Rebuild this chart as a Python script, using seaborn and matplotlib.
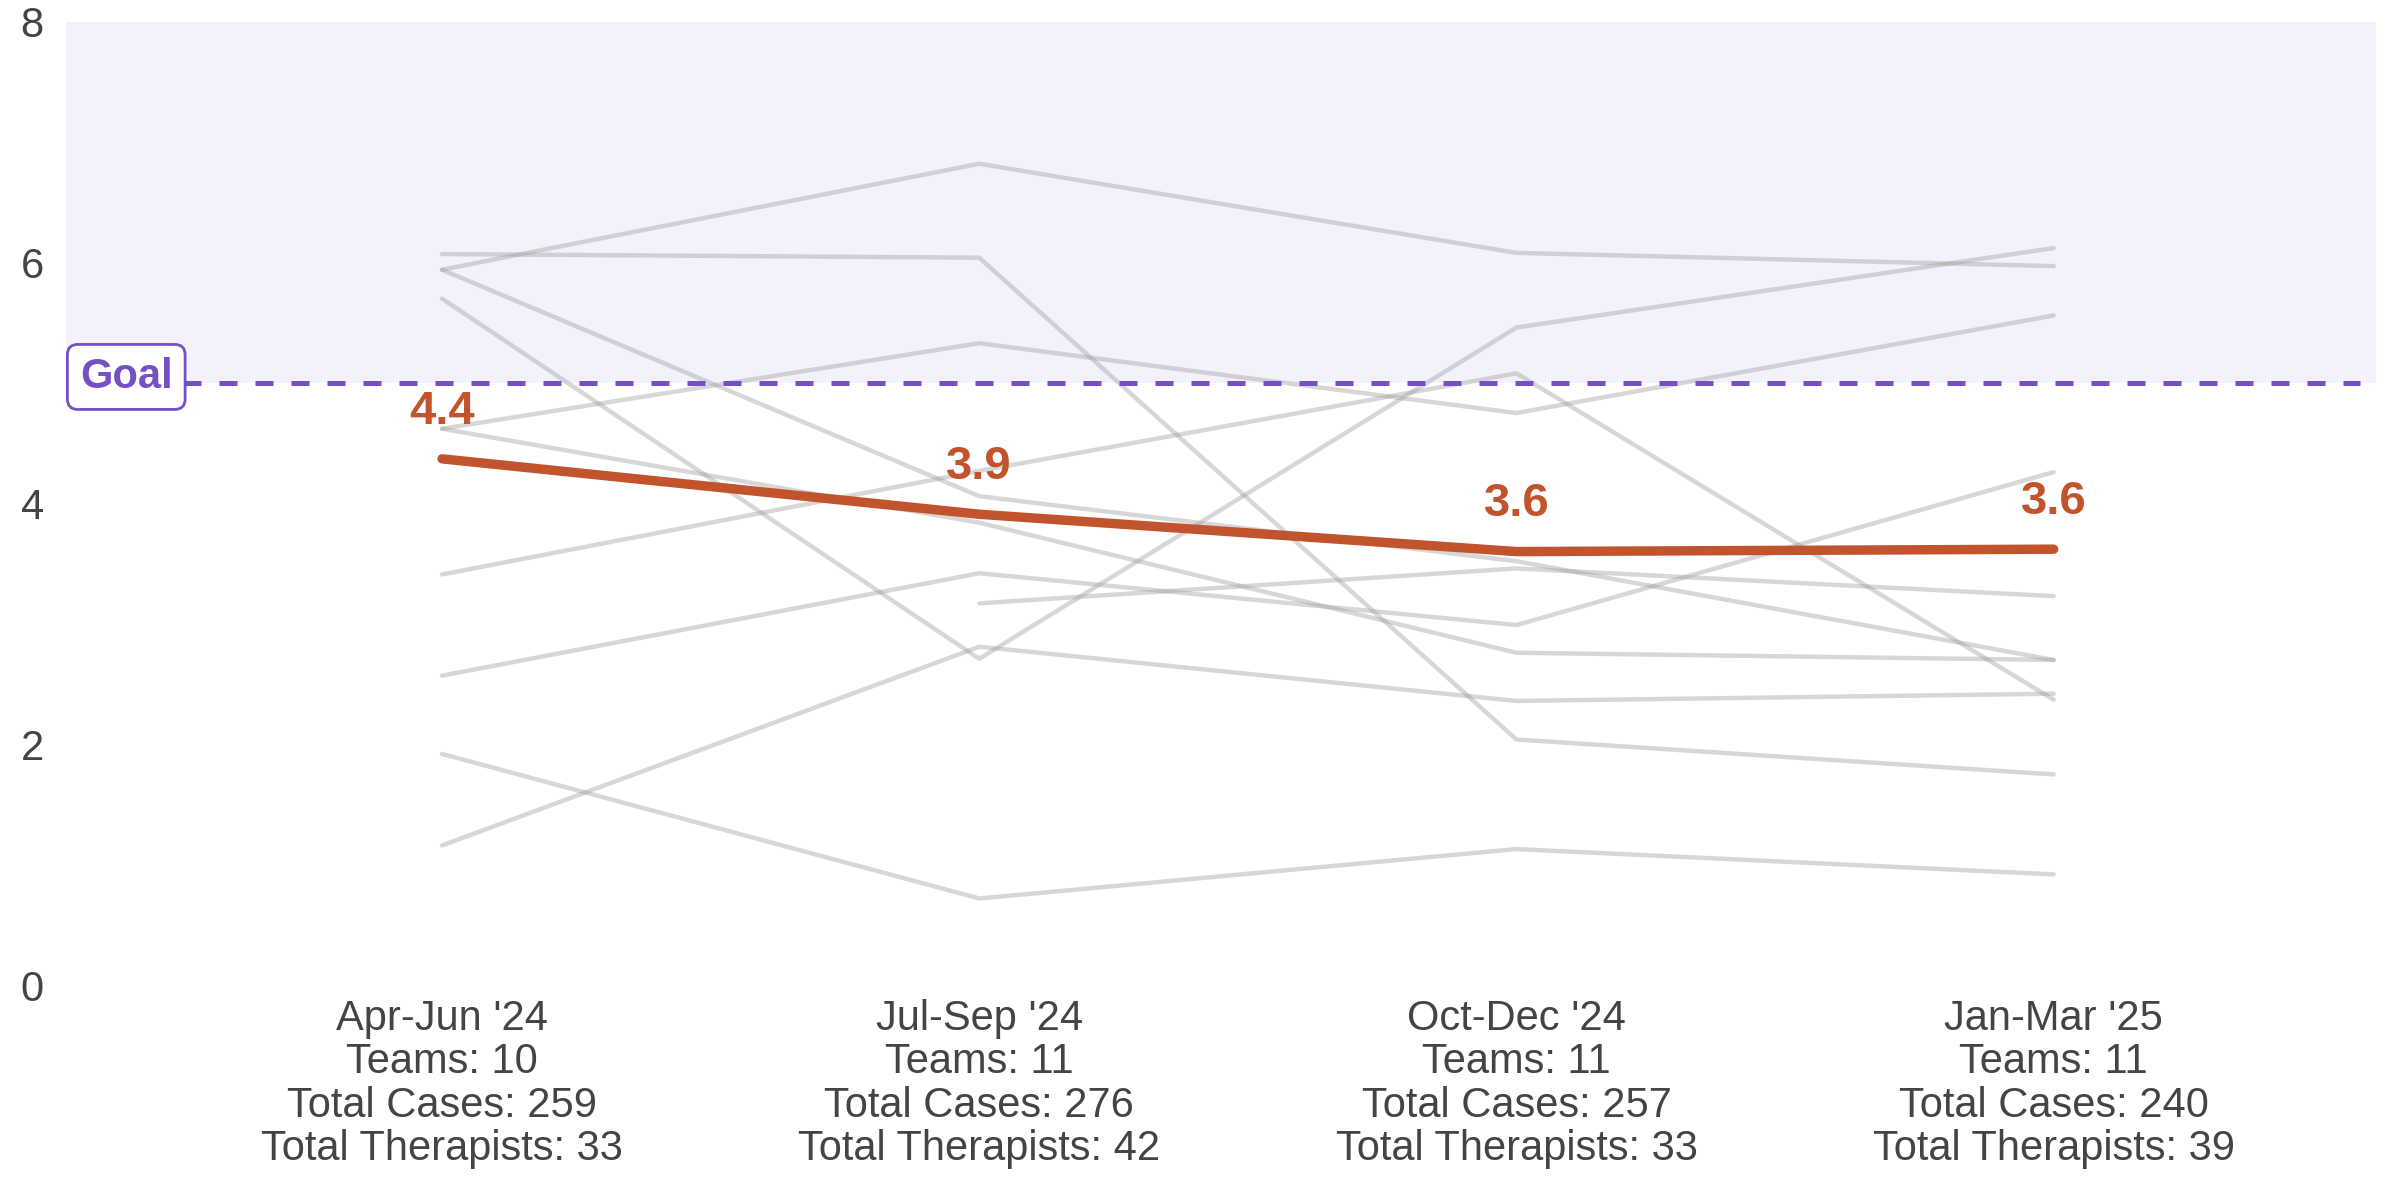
import pandas as pd
import matplotlib
matplotlib.use("Agg")
import matplotlib.pyplot as plt
import seaborn as sns

# Quarter labels and summary counts
quarters = ["Apr-Jun '24", "Jul-Sep '24", "Oct-Dec '24", "Jan-Mar '25"]
teams = [10, 11, 11, 11]
total_cases = [259, 276, 257, 240]
total_therapists = [33, 42, 33, 39]

# Overall average per quarter
overall = [4.37, 3.91, 3.60, 3.62]
goal = 5.0

# Individual team trajectories (None = no data that quarter)
team_1 = [6.07, 6.04, 2.04, 1.75]
team_2 = [5.94, 6.82, 6.08, 5.97]
team_3 = [5.94, 4.06, 3.52, 2.70]
team_4 = [4.62, 5.33, 4.75, 5.56]
team_5 = [4.62, 3.84, 2.76, 2.70]
team_6 = [3.41, 4.27, 5.08, 2.37]
team_7 = [5.70, 2.71, 5.46, 6.12]
team_8 = [2.57, 3.42, 2.99, 4.26]
team_9 = [1.92, 0.72, 1.13, 0.92]
team_10 = [1.16, 2.81, 2.36, 2.42]
team_11 = [None, 3.17, 3.46, 3.23]

team_series = [team_1, team_2, team_3, team_4, team_5, team_6,
               team_7, team_8, team_9, team_10, team_11]

rows = []
for t, vals in enumerate(team_series):
    for q, v in enumerate(vals):
        if v is not None:
            rows.append({"team": f"Team {t + 1}", "q": q, "value": v})
teams_df = pd.DataFrame(rows)
overall_df = pd.DataFrame({"q": range(len(quarters)), "value": overall})

tick_labels = [
    f"{q}\nTeams: {n}\nTotal Cases: {c}\nTotal Therapists: {th}"
    for q, n, c, th in zip(quarters, teams, total_cases, total_therapists)
]

sns.set_style("white")
plt.rcParams["font.family"] = ["Liberation Sans", "DejaVu Sans"]

accent = "#C1542C"
purple = "#7550C4"
text_grey = "#444444"

fig = plt.figure(figsize=(12, 6), dpi=200)
ax = fig.add_axes([0.0275, 0.179, 0.9625, 0.803])

xlim = (-0.70, 3.60)
ax.set_xlim(*xlim)
ax.set_ylim(0, 8)

# Shaded region above the goal
ax.axhspan(goal, 8, color="#F2F2FC", zorder=0, lw=0)

# Team lines
sns.lineplot(data=teams_df, x="q", y="value", units="team", estimator=None,
             color="#A0A0A0", alpha=0.42, lw=1.6, ax=ax, zorder=2)

# Overall line
sns.lineplot(data=overall_df, x="q", y="value", color=accent, lw=3.4,
             ax=ax, zorder=4)

for q, v in zip(overall_df["q"], overall_df["value"]):
    ax.annotate(f"{v:.1f}", xy=(q, v), xytext=(0, 17), textcoords="offset points",
                ha="center", va="center", fontsize=17, fontweight="bold",
                color=accent, zorder=5)

# Goal line and label
span = xlim[1] - xlim[0]
ax.hlines(goal, xlim[0] + 0.0505 * span, xlim[0] + 0.993 * span, colors=purple,
          linestyles=(0, (3.6, 3.6)), lw=1.8, zorder=3)
ax.text(xlim[0] + 0.006 * span, goal + 0.05, "Goal", ha="left", va="center",
        fontsize=15, fontweight="bold", color=purple, zorder=6,
        bbox=dict(boxstyle="round,pad=0.3,rounding_size=0.25", fc="white",
                  ec=purple, lw=1.0))

ax.set_xticks(range(len(quarters)))
ax.set_xticklabels(tick_labels, fontsize=15, color=text_grey, linespacing=1.11)
ax.set_yticks([0, 2, 4, 6, 8])
ax.set_yticklabels(["0", "2", "4", "6", "8"], fontsize=15, color=text_grey)
ax.tick_params(axis="both", length=0)
ax.tick_params(axis="y", pad=8)
ax.tick_params(axis="x", pad=5)
ax.set_xlabel("")
ax.set_ylabel("")
ax.grid(False)
for s in ax.spines.values():
    s.set_visible(False)
ax.set_facecolor("white")

fig.savefig("out.png", dpi=200, facecolor="white")
